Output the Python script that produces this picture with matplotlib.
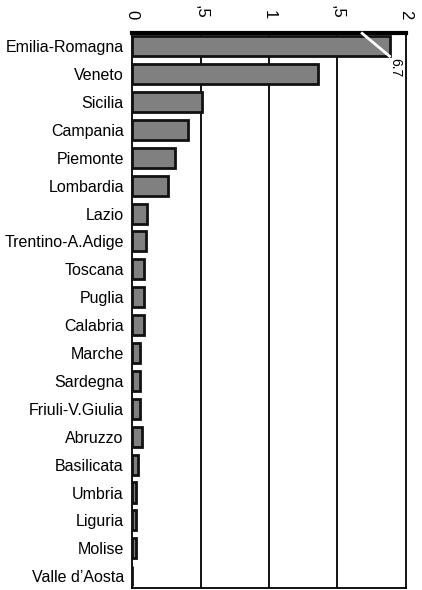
import matplotlib
matplotlib.use("Agg")
import matplotlib.pyplot as plt
import numpy as np

plt.rcParams.update({"font.family": ["Liberation Sans", "DejaVu Sans"]})

regions = ["Emilia-Romagna", "Veneto", "Sicilia", "Campania", "Piemonte",
           "Lombardia", "Lazio", "Trentino-A.Adige", "Toscana", "Puglia",
           "Calabria", "Marche", "Sardegna", "Friuli-V.Giulia", "Abruzzo",
           "Basilicata", "Umbria", "Liguria", "Molise", "Valle d’Aosta"]
values = [6.7, 1.36, 0.51, 0.41, 0.31, 0.26, 0.11, 0.10, 0.086, 0.086,
          0.086, 0.057, 0.057, 0.057, 0.07, 0.045, 0.03, 0.03, 0.03, 0.0]
xticks = [0, 0.5, 1, 1.5, 2]
xtick_labels = ["0", ",5", "1", ",5", "2"]

CAP = 1.88  # bars longer than the axis are broken here
BAR_H = 0.72

fig = plt.figure(figsize=(4.22, 5.90), dpi=100)
ax = fig.add_axes([0.313, 0.003, 0.649, 0.941])

y = np.arange(len(regions))
shown = [min(v, CAP) for v in values]
ax.barh(y, shown, height=BAR_H, color="#808080", edgecolor="#111111",
        linewidth=2, zorder=3)

# break mark + true value on the clipped bar
for i, v in enumerate(values):
    if v > CAP:
        ax.plot([CAP - 0.2, CAP], [i - BAR_H / 2 - 0.1, i + BAR_H / 2],
                color="white", lw=2, zorder=4, clip_on=False)
        ax.text(CAP - 0.01, i + BAR_H / 2 + 0.05, f"{v:.1f}",
                rotation=-90, ha="left", va="top", fontsize=10, zorder=5)

for gx in xticks[1:-1]:
    ax.axvline(gx, color="black", lw=1.3, zorder=1)

ax.set_xlim(0, 2)
ax.set_ylim(len(regions) - 0.57, -0.47)
ax.set_yticks(y, regions)
ax.set_xticks(xticks, xtick_labels)
ax.xaxis.tick_top()
ax.tick_params(axis="x", length=0, pad=10, labelsize=12, labelrotation=-90)
ax.tick_params(axis="y", length=0, pad=6, labelsize=11.5)
for s in ax.spines.values():
    s.set_linewidth(1.3)
ax.spines["top"].set_linewidth(3)

fig.savefig("out.png", dpi=100)
